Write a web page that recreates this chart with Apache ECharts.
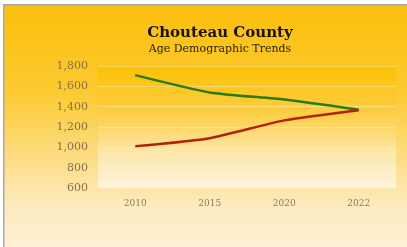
<!DOCTYPE html>
<html>
<head>
<meta charset="utf-8">
<script src="https://cdn.jsdelivr.net/npm/echarts@6/dist/echarts.min.js"></script>
<style>
  html, body { margin: 0; padding: 0; background: #fff; }
  #chart { width: 407px; height: 247px; }
</style>
</head>
<body>
<div id="chart"></div>
<script>
var years = ['2010', '2015', '2020', '2022'];
var greenValues = [1710, 1540, 1470, 1370];
var redValues = [1010, 1090, 1265, 1365];
var yTicks = [600, 800, 1000, 1200, 1400, 1600, 1800];

var chart = echarts.init(document.getElementById('chart'));

var serif = '"DejaVu Serif", "Liberation Serif", serif';

var option = {
  animation: false,
  backgroundColor: '#ffffff',
  graphic: [{
    type: 'rect',
    left: 3,
    top: 4,
    z: -10,
    shape: { width: 410, height: 250 },
    style: {
      fill: new echarts.graphic.LinearGradient(0, 0, 0, 1, [
        { offset: 0, color: '#fbbf0c' },
        { offset: 0.35, color: '#fcca30' },
        { offset: 0.6, color: '#fddc80' },
        { offset: 0.8, color: '#fdeabd' },
        { offset: 1, color: '#fdf0d8' }
      ]),
      stroke: '#a9a9a9',
      lineWidth: 1.5
    }
  }],
  title: [{
    text: 'Chouteau County',
    left: 215,
    top: 21,
    textAlign: 'center',
    textStyle: { fontFamily: serif, fontSize: 15, fontWeight: 'bold', color: '#1a1208' }
  }, {
    text: 'Age Demographic Trends',
    left: 215,
    top: 39,
    textAlign: 'center',
    textStyle: { fontFamily: serif, fontSize: 11, fontWeight: 'normal', color: '#2a2010' }
  }],
  grid: {
    left: 98,
    right: 11,
    top: 66,
    bottom: 59,
    show: true,
    borderWidth: 0,
    backgroundColor: new echarts.graphic.LinearGradient(0, 0, 0, 1, [
      { offset: 0, color: '#fbc104' },
      { offset: 0.4, color: '#fccf46' },
      { offset: 0.7, color: '#fde6a8' },
      { offset: 1, color: '#fdf3e0' }
    ])
  },
  xAxis: {
    type: 'category',
    data: years,
    axisLine: { show: false },
    axisTick: { show: false },
    axisLabel: { fontFamily: serif, fontSize: 9, color: '#8a7a60', margin: 11 }
  },
  yAxis: {
    type: 'value',
    min: yTicks[0],
    max: yTicks[yTicks.length - 1],
    interval: 200,
    axisLine: { show: false },
    axisTick: { show: false },
    splitLine: { lineStyle: { color: 'rgba(255,240,200,0.45)', width: 1 } },
    axisLabel: {
      fontFamily: serif,
      fontSize: 11,
      color: '#86704c',
      margin: 10,
      formatter: function (v) { return v.toLocaleString('en-US'); }
    }
  },
  series: [{
    name: 'green',
    type: 'line',
    data: greenValues,
    smooth: 0.2,
    symbol: 'none',
    lineStyle: { color: '#2c7a12', width: 2.5 }
  }, {
    name: 'red',
    type: 'line',
    data: redValues,
    smooth: 0.2,
    symbol: 'none',
    lineStyle: { color: '#b3200c', width: 2.5 }
  }]
};

chart.setOption(option);
</script>
</body>
</html>
